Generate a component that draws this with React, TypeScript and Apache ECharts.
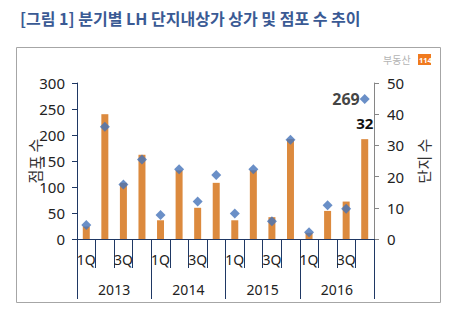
import React, { useEffect, useRef } from "react";
import * as echarts from "echarts";

const quarters = ["1Q","2Q","3Q","4Q","1Q","2Q","3Q","4Q","1Q","2Q","3Q","4Q","1Q","2Q","3Q","4Q"];
const years = ["2013", "2014", "2015", "2016"];
const complexCount = [4, 40, 18, 27, 6, 22, 10, 18, 6, 22, 7, 32, 2, 9, 12, 32];
const storeCount = [27, 216, 105, 153, 46, 134, 72, 123, 49, 134, 34, 191, 13, 65, 58, 269];
const leftTicks = { min: 0, max: 300, interval: 50 };
const rightTicks = { min: 0, max: 50, interval: 10 };

const FONT = "'Noto Sans CJK KR', 'Noto Sans', sans-serif";
const LATIN = "'Noto Sans', 'DejaVu Sans', sans-serif";
const NAVY = "#1f3864";

export default function App() {
  const ref = useRef<HTMLDivElement>(null);
  useEffect(() => {
    const chart = echarts.init(ref.current!, null, { renderer: "svg" });
    const last = storeCount.length - 1;
    chart.setOption({
      animation: false,
      backgroundColor: "#ffffff",
      textStyle: { fontFamily: FONT },
      title: {
        text: "[그림 1] 분기별 LH 단지내상가 상가 및 점포 수 추이",
        left: 15,
        top: 5,
        textStyle: { fontFamily: FONT, fontSize: 16, fontWeight: "bold", color: "#3a5a94" },
      },
      graphic: [
        {
          type: "rect",
          shape: { x: 16.5, y: 47.5, width: 424, height: 255 },
          style: { fill: "none", stroke: "#a6a6a6", lineWidth: 1 },
          silent: true,
        },
        {
          type: "text",
          x: 383,
          y: 54,
          style: { text: "부동산", fontSize: 10, fontFamily: FONT, fill: "#b4b4b4" },
        },
        {
          type: "rect",
          shape: { x: 418, y: 54, width: 13, height: 11 },
          style: { fill: "#f07a1e" },
        },
        {
          type: "text",
          x: 419,
          y: 55.5,
          style: { text: "114", fontSize: 7.5, fontWeight: "bold", fontFamily: LATIN, fill: "#ffffff" },
        },
      ],
      grid: { left: 77, right: 83, top: 83, bottom: 85, containLabel: false },
      xAxis: [
        {
          type: "category",
          data: quarters,
          position: "bottom",
          offset: 0,
          axisLine: { show: true, lineStyle: { color: NAVY, width: 1 } },
          axisTick: { show: true, length: 29, interval: 0, lineStyle: { color: NAVY } },
          axisLabel: { interval: 1, margin: 13, fontSize: 14, color: "#222", fontFamily: LATIN },
        },
        {
          type: "category",
          data: years,
          position: "bottom",
          offset: 0,
          axisLine: { show: false },
          axisTick: { show: true, length: 60, interval: 0, lineStyle: { color: NAVY } },
          axisLabel: { interval: 0, margin: 43, fontSize: 14, color: "#222", fontFamily: LATIN },
        },
      ],
      yAxis: [
        {
          type: "value",
          ...leftTicks,
          position: "left",
          name: "점포 수",
          nameLocation: "middle",
          nameRotate: 90,
          nameGap: 35,
          nameMoveOverlap: false,
          nameTextStyle: { fontSize: 15, color: "#333", fontFamily: FONT },
          axisLine: { show: true, lineStyle: { color: NAVY } },
          axisTick: { show: true, inside: false, length: 5, lineStyle: { color: NAVY } },
          axisLabel: { margin: 12, fontSize: 15, color: "#222", fontFamily: LATIN },
          splitLine: { show: false },
        },
        {
          type: "value",
          ...rightTicks,
          position: "right",
          name: "단지 수",
          nameLocation: "middle",
          nameRotate: 90,
          nameGap: 42,
          nameMoveOverlap: false,
          nameTextStyle: { fontSize: 15, color: "#333", fontFamily: FONT },
          axisLine: { show: true, lineStyle: { color: "#868686" } },
          axisTick: { show: true, inside: false, length: 5, lineStyle: { color: "#868686" } },
          axisLabel: { margin: 13, fontSize: 15, color: "#222", fontFamily: LATIN },
          splitLine: { show: false },
        },
      ],
      series: [
        {
          type: "bar",
          name: "단지 수",
          xAxisIndex: 0,
          yAxisIndex: 1,
          barWidth: 7,
          itemStyle: { color: "#dc8a3e" },
          data: complexCount.map((v, i) =>
            i === last
              ? {
                  value: v,
                  label: {
                    show: true,
                    position: "top",
                    distance: 9,
                    fontSize: 15,
                    fontWeight: "bold",
                    color: "#111",
                    fontFamily: LATIN,
                  },
                }
              : v
          ),
        },
        {
          type: "scatter",
          name: "점포 수",
          xAxisIndex: 0,
          yAxisIndex: 0,
          symbol: "diamond",
          symbolSize: 10,
          itemStyle: { color: "#4573b9" },
          z: 5,
          data: storeCount.map((v, i) =>
            i === last
              ? {
                  value: v,
                  label: {
                    show: true,
                    position: "left",
                    distance: 0,
                    fontSize: 16,
                    fontWeight: "bold",
                    color: "#111",
                    fontFamily: LATIN,
                  },
                }
              : v
          ),
        },
      ],
    });
    return () => chart.dispose();
  }, []);
  return (
    <div
      ref={ref}
      style={{ position: "absolute", left: 0, top: 0, width: 457, height: 324 }}
    />
  );
}
